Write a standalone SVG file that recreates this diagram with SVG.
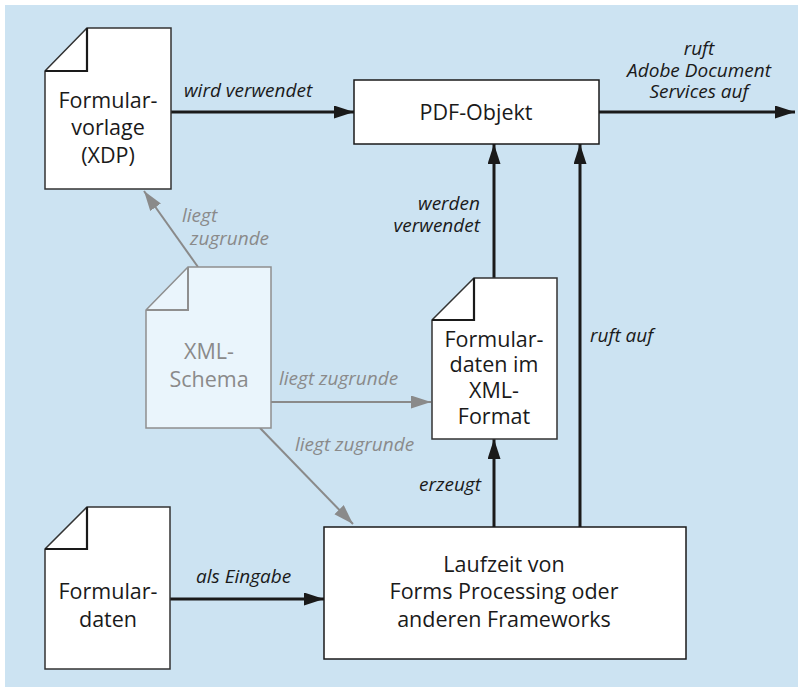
<svg xmlns="http://www.w3.org/2000/svg" width="798" height="687" viewBox="0 0 798 687">
<defs>
<marker id="ah" markerUnits="userSpaceOnUse" markerWidth="22" markerHeight="14" refX="20" refY="6.5" orient="auto">
<path d="M0,0 L20,6.5 L0,13 Z" fill="#1a1a1a"/>
</marker>
<marker id="ahg" markerUnits="userSpaceOnUse" markerWidth="22" markerHeight="14" refX="20" refY="6.5" orient="auto">
<path d="M0,0 L20,6.5 L0,13 Z" fill="#8a8a8a"/>
</marker>
<style>
.doc{fill:#fff;stroke:#333;stroke-width:1.5}
.fold{fill:none;stroke:#1a1a1a;stroke-width:2.2}
.gdoc{fill:#eaf5fc;stroke:#8f8f8f;stroke-width:1.5}
.gfold{fill:none;stroke:#8f8f8f;stroke-width:2}
.box{fill:#fff;stroke:#1a1a1a;stroke-width:1.5}
.t{font-family:"Open Sans","Noto Sans",sans-serif;font-size:21.5px;fill:#1a1a1a;text-anchor:middle}
.tg{font-family:"Open Sans","Noto Sans",sans-serif;font-size:21.5px;fill:#8a8a8a;text-anchor:middle}
.l{font-family:"Open Sans","Noto Sans",sans-serif;font-size:19px;font-style:italic;fill:#1a1a1a}
.lg{font-family:"Open Sans","Noto Sans",sans-serif;font-size:19px;font-style:italic;fill:#8a8a8a}
.c{fill:none;stroke:#1a1a1a;stroke-width:3}
.cg{fill:none;stroke:#8a8a8a;stroke-width:2}
</style>
</defs>
<rect x="5" y="5" width="793" height="682" fill="#cce3f2"/>

<g id="connectors">
<line class="c" x1="171" y1="112" x2="354" y2="112" marker-end="url(#ah)"/>
<line class="c" x1="599" y1="112" x2="795" y2="112" marker-end="url(#ah)"/>
<line class="c" x1="494" y1="278" x2="494" y2="144" marker-end="url(#ah)"/>
<line class="c" x1="580" y1="527" x2="580" y2="144" marker-end="url(#ah)"/>
<line class="c" x1="494" y1="527" x2="494" y2="439" marker-end="url(#ah)"/>
<line class="c" x1="170" y1="599" x2="324" y2="599" marker-end="url(#ah)"/>
<line class="cg" x1="271" y1="402" x2="431" y2="402" marker-end="url(#ahg)"/>
<line class="cg" x1="198" y1="267" x2="144" y2="191" marker-end="url(#ahg)"/>
<line class="cg" x1="260" y1="428" x2="353" y2="524" marker-end="url(#ahg)"/>
<text class="l" x="184" y="97">wird verwendet</text>
<text class="l" x="699" y="55" text-anchor="middle">ruft</text>
<text class="l" x="699" y="77" text-anchor="middle">Adobe Document</text>
<text class="l" x="699" y="98" text-anchor="middle">Services auf</text>
<text class="l" x="480" y="210" text-anchor="end">werden</text>
<text class="l" x="480" y="232" text-anchor="end">verwendet</text>
<text class="l" x="590" y="342">ruft auf</text>
<text class="l" x="481" y="491" text-anchor="end">erzeugt</text>
<text class="l" x="196" y="583">als Eingabe</text>
<text class="lg" x="182" y="222">liegt</text>
<text class="lg" x="190" y="245">zugrunde</text>
<text class="lg" x="279" y="385">liegt zugrunde</text>
<text class="lg" x="295" y="451">liegt zugrunde</text>
</g>

<g id="formularvorlage">
<path class="doc" d="M45,71 L87,28 L171,28 L171,189 L45,189 Z"/>
<path class="fold" d="M87,28 L87,71 L45,71"/>
<text class="t" x="108" y="108">Formular-</text>
<text class="t" x="108" y="135">vorlage</text>
<text class="t" x="108" y="163">(XDP)</text>
</g>

<g id="pdf-objekt">
<rect class="box" x="354" y="80" width="245" height="64"/>
<text class="t" x="476" y="120">PDF-Objekt</text>
</g>

<g id="xml-schema">
<path class="gdoc" d="M146,310 L188,267 L271,267 L271,428 L146,428 Z"/>
<path class="gfold" d="M188,267 L188,310 L146,310"/>
<text class="tg" x="209" y="359">XML-</text>
<text class="tg" x="209" y="387">Schema</text>
</g>

<g id="formulardaten-xml">
<path class="doc" d="M432,320 L474,278 L557,278 L557,439 L432,439 Z"/>
<path class="fold" d="M474,278 L474,320 L432,320"/>
<text class="t" x="494" y="347">Formular-</text>
<text class="t" x="494" y="372">daten im</text>
<text class="t" x="494" y="398">XML-</text>
<text class="t" x="494" y="424">Format</text>
</g>

<g id="formulardaten">
<path class="doc" d="M45,549 L87,507 L170,507 L170,669 L45,669 Z"/>
<path class="fold" d="M87,507 L87,549 L45,549"/>
<text class="t" x="108" y="599">Formular-</text>
<text class="t" x="108" y="627">daten</text>
</g>

<g id="laufzeit">
<rect class="box" x="324" y="527" width="362" height="132"/>
<text class="t" x="504" y="572">Laufzeit von</text>
<text class="t" x="504" y="599">Forms Processing oder</text>
<text class="t" x="504" y="627">anderen Frameworks</text>
</g>
</svg>
